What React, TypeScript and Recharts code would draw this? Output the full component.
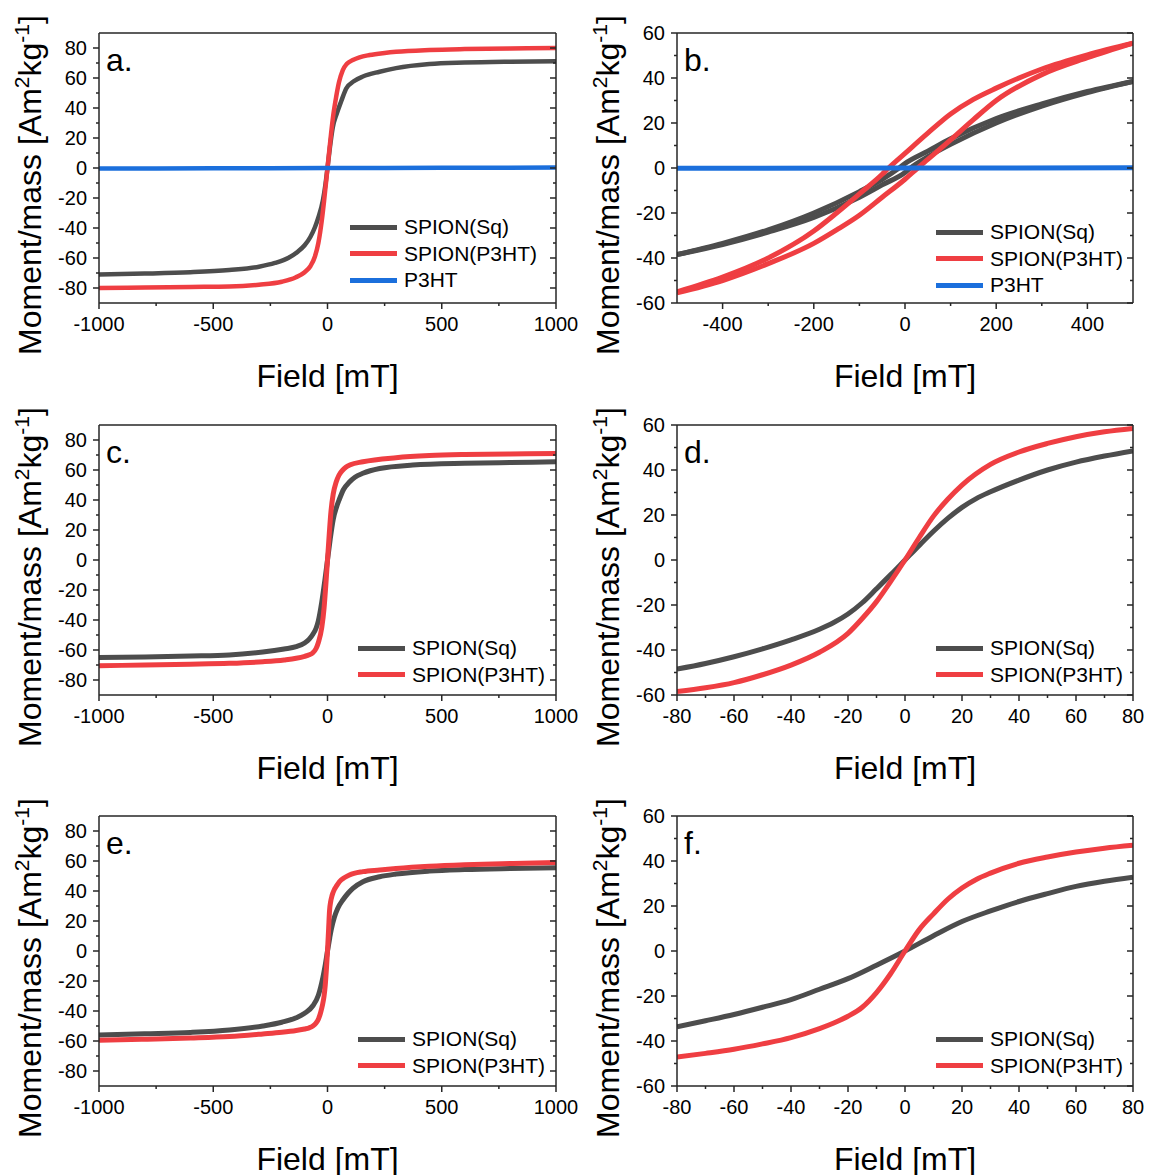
import React from 'react';
import { LineChart, Line, XAxis, YAxis, Legend } from 'recharts';

const FONT = '"Liberation Sans", Arial, Helvetica, sans-serif';
const SQ_COLOR = '#4d4d4d';
const P3HT_COLOR = '#ef3e42';
const BLUE_COLOR = '#1b6fdc';
const AXIS_COLOR = '#262626';

// ---- tick sets ----
const wideField = [-1000, -500, 0, 500, 1000];
const wideFieldMinor = [-750, -250, 250, 750];
const wideMoment = [-80, -60, -40, -20, 0, 20, 40, 60, 80];
const wideMomentMinor = [-70, -50, -30, -10, 10, 30, 50, 70];
const loopField = [-400, -200, 0, 200, 400];
const loopFieldMinor = [-300, -100, 100, 300];
const lowField = [-80, -60, -40, -20, 0, 20, 40, 60, 80];
const lowFieldMinor = [-70, -50, -30, -10, 10, 30, 50, 70];
const narrowMoment = [-60, -40, -20, 0, 20, 40, 60];
const narrowMomentMinor = [-50, -30, -10, 10, 30, 50];

// ---- a. full range, three samples ----
const aSqField = [-1000, -800, -600, -430, -300, -230, -170, -130, -100, -75, -55, -40, -20, -10, 0, 10, 23, 40, 60, 82, 115, 155, 228, 300, 446, 600, 800, 1000];
const aSqMoment = [-71, -70.4, -69.5, -68, -65.8, -63.3, -59.8, -55.8, -51.5, -46, -39.5, -33, -21.5, -12, 0, 13, 27, 36, 44.5, 53, 57.8, 61, 64.2, 66.6, 69.3, 70.3, 70.9, 71.2];
const aP3htField = [-1000, -800, -600, -430, -300, -200, -140, -100, -75, -55, -40, -25, -15, 0, 15, 25, 38, 50, 67, 85, 111, 140, 184, 250, 300, 446, 600, 800, 1000];
const aP3htMoment = [-80, -79.7, -79.3, -79, -77.8, -75.8, -73, -69.5, -65.5, -59, -50, -35, -22, 0, 22, 35, 47.5, 57, 65.3, 69.5, 72, 73.8, 75.3, 76.7, 77.5, 78.7, 79.3, 79.7, 80];
const aBlankField = [-1000, -500, 0, 500, 1000];
const aBlankMoment = [-0.4, -0.2, 0, 0.1, 0.3];

// ---- b. loops, +-500 mT ----
const bSqDownField = [-500, -400, -300, -200, -100, -50, -13, 0, 50, 100, 200, 300, 400, 500];
const bSqDownMoment = [-38.5, -33.5, -27.5, -20, -10.5, -5, 0, 2, 7.5, 13, 22, 28.5, 34, 38.5];
const bSqUpField = [-500, -400, -300, -200, -100, -50, 0, 12, 50, 100, 200, 300, 400, 500];
const bSqUpMoment = [-38.5, -34, -28.5, -22, -13, -7.5, -2, 0, 5, 10.5, 20, 27.5, 33.5, 38.5];
const bP3htDownField = [-500, -400, -300, -200, -150, -100, -50, -36, 0, 50, 100, 150, 200, 300, 400, 500];
const bP3htDownMoment = [-55, -48.5, -40, -28, -20, -11.5, -2.8, 0, 6.5, 15.5, 24, 30.5, 35.5, 44, 50.3, 55.5];
const bP3htUpField = [-500, -400, -300, -200, -150, -100, -50, 0, 28, 50, 100, 150, 200, 300, 400, 500];
const bP3htUpMoment = [-55.5, -50, -42.5, -33.5, -27.5, -21, -13, -5, 0, 3.8, 12.5, 21.5, 30, 41.5, 49, 55.5];
const bBlankField = [-500, 0, 500];
const bBlankMoment = [-0.1, 0, 0.1];

// ---- c. full range ----
const cSqField = [-1000, -800, -600, -430, -283, -190, -137, -100, -80, -64, -50, -40, -25, -12, 0, 12, 25, 40, 52, 70, 96, 120, 155, 228, 373, 600, 800, 1000];
const cSqMoment = [-65, -64.6, -64, -63.3, -61.3, -59.3, -57.8, -55.3, -52.8, -49.5, -45.5, -40.5, -28, -14, 0, 14, 27, 35.5, 40.5, 47, 52, 55.2, 57.8, 61, 63.3, 64.5, 65, 65.5];
const cP3htField = [-1000, -800, -600, -430, -283, -190, -137, -100, -80, -64, -50, -40, -25, -15, -8, 0, 8, 15, 25, 38, 50, 67, 80, 100, 155, 300, 446, 600, 800, 1000];
const cP3htMoment = [-70.5, -70, -69.5, -68.9, -67.8, -66.6, -65.5, -64.2, -63.2, -61.8, -59, -55, -45, -32, -18, 0, 18, 32, 44, 52, 56.5, 60, 61.8, 63.5, 65.5, 68.2, 69.6, 70.3, 70.7, 71];

// ---- d. low field ----
const dSqField = [-80, -70, -60, -50, -40, -30, -25, -20, -15, -10, -5, 0, 5, 10, 15, 20, 25, 30, 40, 50, 60, 70, 80];
const dSqMoment = [-48.5, -46, -43, -39.5, -35.5, -30.8, -27.8, -24, -19, -12.8, -6.5, 0, 6.5, 12.8, 18.5, 23.4, 27.3, 30.3, 35.5, 40, 43.5, 46.2, 48.5];
const dP3htField = [-80, -70, -60, -50, -40, -30, -20, -15, -10, -5, 0, 5, 10, 15, 20, 30, 40, 50, 60, 70, 80];
const dP3htMoment = [-58.5, -56.8, -54.5, -51, -46.7, -41, -32.6, -26, -18.5, -9.5, 0, 10, 19.5, 27, 33.3, 42.5, 48, 51.8, 54.8, 57, 58.5];

// ---- e. full range ----
const eSqField = [-1000, -800, -600, -429, -283, -200, -137, -100, -64, -40, -20, -10, 0, 10, 16, 30, 45, 67, 90, 111, 155, 228, 300, 446, 600, 800, 1000];
const eSqMoment = [-56, -55.2, -54.3, -52.7, -50, -47.5, -44.5, -41.5, -36.5, -29.5, -17.5, -9.5, 0, 9, 14, 22.5, 28.5, 34, 38.5, 41.8, 46.2, 49.5, 51.3, 53.3, 54.3, 55, 55.5];
const eP3htField = [-1000, -800, -600, -429, -283, -200, -137, -100, -80, -64, -50, -40, -30, -22, -15, -10, -5, 0, 5, 9, 14, 20, 30, 38, 52, 75, 96, 155, 228, 300, 446, 600, 800, 1000];
const eP3htMoment = [-59.5, -58.8, -58, -57, -55.3, -54.2, -53, -52, -51.2, -50, -48, -45.5, -41, -36, -30, -23, -12.5, 0, 15, 27, 33, 37, 41, 43, 46.2, 49, 50.7, 52.9, 54, 55, 56.5, 57.5, 58.3, 59];

// ---- f. low field ----
const fSqField = [-80, -70, -60, -50, -40, -30, -20, -10, 0, 10, 20, 30, 40, 50, 60, 70, 80];
const fSqMoment = [-33.7, -31, -28.2, -25, -21.6, -17, -12.3, -6.3, 0, 6.8, 13.1, 17.8, 22, 25.5, 28.7, 31, 32.8];
const fP3htField = [-80, -70, -60, -50, -40, -30, -25, -20, -15, -10, -5, 0, 5, 10, 15, 20, 25, 30, 40, 50, 60, 70, 80];
const fP3htMoment = [-47.1, -45.5, -43.7, -41.3, -38.5, -34.5, -32, -29, -25, -18.5, -10, 0, 9.5, 16.5, 23, 28, 31.8, 34.6, 39, 41.8, 44, 45.7, 47];

type Pt = { x: number; y: number };
const toPts = (xs: number[], ys: number[]): Pt[] => xs.map((x, i) => ({ x, y: ys[i] }));

interface Series {
  key: string;
  name: string;
  color: string;
  data: Pt[];
  legend: boolean;
}

const sq = (key: string, xs: number[], ys: number[], legend = true): Series => ({ key, name: 'SPION(Sq)', color: SQ_COLOR, data: toPts(xs, ys), legend });
const p3 = (key: string, xs: number[], ys: number[], legend = true): Series => ({ key, name: 'SPION(P3HT)', color: P3HT_COLOR, data: toPts(xs, ys), legend });
const blank = (key: string, xs: number[], ys: number[]): Series => ({ key, name: 'P3HT', color: BLUE_COLOR, data: toPts(xs, ys), legend: true });

const PLOT_LEFT = 99;
const PLOT_TOP = 33;
const PLOT_HEIGHT = 270;
const CHART_HEIGHT = 400;
const MAJOR_LEN = 6;
const MINOR_LEN = 3;

type Side = 'bottom' | 'left' | 'top' | 'right';

function makeTick(side: Side, major: number[]) {
  return (props: any) => {
    const { x, y, payload } = props;
    const v = payload.value;
    const isMajor = major.includes(v);
    const len = isMajor ? MAJOR_LEN : MINOR_LEN;
    const common = { stroke: AXIS_COLOR, strokeWidth: 1.5 };
    if (side === 'bottom') {
      return (
        <g>
          <line x1={x} x2={x} y1={y} y2={y + len} {...common} />
          {isMajor && (
            <text x={x} y={y + 28} textAnchor="middle" fontSize={20} fontFamily={FONT} fill="#000">
              {v}
            </text>
          )}
        </g>
      );
    }
    if (side === 'left') {
      return (
        <g>
          <line x1={x - len} x2={x} y1={y} y2={y} {...common} />
          {isMajor && (
            <text x={x - 12} y={y + 7} textAnchor="end" fontSize={20} fontFamily={FONT} fill="#000">
              {v}
            </text>
          )}
        </g>
      );
    }
    if (side === 'top') return <line x1={x} x2={x} y1={y} y2={y + len} {...common} />;
    return <line x1={x - len} x2={x} y1={y} y2={y} {...common} />;
  };
}

const YTitle = (props: any) => {
  const vb = props.viewBox;
  const bx = vb.x + vb.width - 58;
  const cy = vb.y + vb.height / 2 + 17;
  return (
    <text x={bx} y={cy} transform={`rotate(-90 ${bx} ${cy})`} textAnchor="middle" fontFamily={FONT} fontSize={32} fill="#000">
      Moment/mass [Am
      <tspan dy={-12} fontSize={21}>2</tspan>
      <tspan dy={12}>kg</tspan>
      <tspan dy={-12} fontSize={21}>-1</tspan>
      <tspan dy={12}>]</tspan>
    </text>
  );
};

const XTitle = (props: any) => {
  const vb = props.viewBox;
  return (
    <text x={vb.x + vb.width / 2} y={vb.y + 84} textAnchor="middle" fontFamily={FONT} fontSize={32} fill="#000">
      Field [mT]
    </text>
  );
};

function LegendBox({ items }: { items: Series[] }) {
  return (
    <div style={{ fontFamily: FONT, fontSize: 21, color: '#000' }}>
      {items.map((it) => (
        <div key={it.key} style={{ display: 'flex', alignItems: 'center', height: 26.5, whiteSpace: 'nowrap' }}>
          <span style={{ display: 'inline-block', width: 47, height: 5, background: it.color, marginRight: 7 }} />
          <span>{it.name}</span>
        </div>
      ))}
    </div>
  );
}

interface PanelProps {
  left: number;
  top: number;
  width: number;
  plotWidth: number;
  letter: string;
  xDomain: [number, number];
  xMajor: number[];
  xMinor: number[];
  yDomain: [number, number];
  yMajor: number[];
  yMinor: number[];
  series: Series[];
  lineWidth: number;
  legendLeft: number;
  legendTop: number;
}

function Panel(p: PanelProps) {
  const xAll = [...p.xMajor, ...p.xMinor].sort((a, b) => a - b);
  const yAll = [...p.yMajor, ...p.yMinor].sort((a, b) => a - b);
  const bottomH = CHART_HEIGHT - PLOT_TOP - PLOT_HEIGHT;
  const rightMargin = p.width - PLOT_LEFT - p.plotWidth - 1;
  const legendItems = p.series.filter((s) => s.legend);
  const Letter = (props: any) => {
    const vb = props.viewBox;
    return (
      <text x={vb.x + 7} y={vb.y + vb.height + 38} fontFamily={FONT} fontSize={32} fill="#000">
        {p.letter}
      </text>
    );
  };
  return (
    <div style={{ position: 'absolute', left: p.left, top: p.top }}>
      <LineChart width={p.width} height={CHART_HEIGHT} margin={{ top: PLOT_TOP - 1, right: rightMargin, bottom: 0, left: 0 }}>
        <XAxis
          xAxisId="main"
          dataKey="x"
          type="number"
          domain={p.xDomain}
          allowDataOverflow
          ticks={xAll}
          interval={0}
          height={bottomH}
          tickSize={0}
          tickMargin={0}
          tickLine={false}
          axisLine={{ stroke: AXIS_COLOR, strokeWidth: 1.5 }}
          tick={makeTick('bottom', p.xMajor)}
          label={XTitle}
        />
        <XAxis
          xAxisId="top"
          orientation="top"
          type="number"
          domain={p.xDomain}
          allowDataOverflow
          ticks={xAll}
          interval={0}
          height={1}
          tickSize={0}
          tickMargin={0}
          tickLine={false}
          axisLine={{ stroke: AXIS_COLOR, strokeWidth: 1.5 }}
          tick={makeTick('top', p.xMajor)}
          label={Letter}
        />
        <YAxis
          yAxisId="main"
          type="number"
          domain={p.yDomain}
          allowDataOverflow
          ticks={yAll}
          interval={0}
          width={PLOT_LEFT}
          tickSize={0}
          tickMargin={0}
          tickLine={false}
          axisLine={{ stroke: AXIS_COLOR, strokeWidth: 1.5 }}
          tick={makeTick('left', p.yMajor)}
          label={YTitle}
        />
        <YAxis
          yAxisId="right"
          orientation="right"
          type="number"
          domain={p.yDomain}
          allowDataOverflow
          ticks={yAll}
          interval={0}
          width={1}
          tickSize={0}
          tickMargin={0}
          tickLine={false}
          axisLine={{ stroke: AXIS_COLOR, strokeWidth: 1.5 }}
          tick={makeTick('right', p.yMajor)}
        />
        {p.series.map((s) => (
          <Line
            key={s.key}
            xAxisId="main"
            yAxisId="main"
            data={s.data}
            dataKey="y"
            name={s.name}
            type="monotone"
            stroke={s.color}
            strokeWidth={p.lineWidth}
            dot={false}
            activeDot={false}
            legendType={s.legend ? 'line' : 'none'}
            isAnimationActive={false}
          />
        ))}
        <Legend
          layout="vertical"
          align="center"
          verticalAlign="middle"
          wrapperStyle={{ left: p.legendLeft, top: p.legendTop, width: 'auto', height: 'auto', margin: 0 }}
          content={() => <LegendBox items={legendItems} />}
        />
      </LineChart>
    </div>
  );
}

const wideX: [number, number] = [-1000, 1000];
const wideY: [number, number] = [-90, 90];
const narrowY: [number, number] = [-60, 60];

export default function App() {
  return (
    <div style={{ position: 'absolute', left: 0, top: 0, width: 1149, height: 1175, background: '#fff', overflow: 'hidden' }}>
      <Panel
        left={0} top={0} width={590} plotWidth={457} letter="a."
        xDomain={wideX} xMajor={wideField} xMinor={wideFieldMinor}
        yDomain={wideY} yMajor={wideMoment} yMinor={wideMomentMinor}
        lineWidth={4.5} legendLeft={350} legendTop={214}
        series={[sq('a-sq', aSqField, aSqMoment), p3('a-p3', aP3htField, aP3htMoment), blank('a-bl', aBlankField, aBlankMoment)]}
      />
      <Panel
        left={578} top={0} width={571} plotWidth={456} letter="b."
        xDomain={[-500, 500]} xMajor={loopField} xMinor={loopFieldMinor}
        yDomain={narrowY} yMajor={narrowMoment} yMinor={narrowMomentMinor}
        lineWidth={5} legendLeft={358} legendTop={219}
        series={[
          sq('b-sq-down', bSqDownField, bSqDownMoment),
          sq('b-sq-up', bSqUpField, bSqUpMoment, false),
          p3('b-p3-down', bP3htDownField, bP3htDownMoment),
          p3('b-p3-up', bP3htUpField, bP3htUpMoment, false),
          blank('b-bl', bBlankField, bBlankMoment),
        ]}
      />
      <Panel
        left={0} top={392} width={590} plotWidth={457} letter="c."
        xDomain={wideX} xMajor={wideField} xMinor={wideFieldMinor}
        yDomain={wideY} yMajor={wideMoment} yMinor={wideMomentMinor}
        lineWidth={5} legendLeft={358} legendTop={243}
        series={[sq('c-sq', cSqField, cSqMoment), p3('c-p3', cP3htField, cP3htMoment)]}
      />
      <Panel
        left={578} top={392} width={571} plotWidth={456} letter="d."
        xDomain={[-80, 80]} xMajor={lowField} xMinor={lowFieldMinor}
        yDomain={narrowY} yMajor={narrowMoment} yMinor={narrowMomentMinor}
        lineWidth={5} legendLeft={358} legendTop={243}
        series={[sq('d-sq', dSqField, dSqMoment), p3('d-p3', dP3htField, dP3htMoment)]}
      />
      <Panel
        left={0} top={783} width={590} plotWidth={457} letter="e."
        xDomain={wideX} xMajor={wideField} xMinor={wideFieldMinor}
        yDomain={wideY} yMajor={wideMoment} yMinor={wideMomentMinor}
        lineWidth={5} legendLeft={358} legendTop={243}
        series={[sq('e-sq', eSqField, eSqMoment), p3('e-p3', eP3htField, eP3htMoment)]}
      />
      <Panel
        left={578} top={783} width={571} plotWidth={456} letter="f."
        xDomain={[-80, 80]} xMajor={lowField} xMinor={lowFieldMinor}
        yDomain={narrowY} yMajor={narrowMoment} yMinor={narrowMomentMinor}
        lineWidth={5} legendLeft={358} legendTop={243}
        series={[sq('f-sq', fSqField, fSqMoment), p3('f-p3', fP3htField, fP3htMoment)]}
      />
    </div>
  );
}
